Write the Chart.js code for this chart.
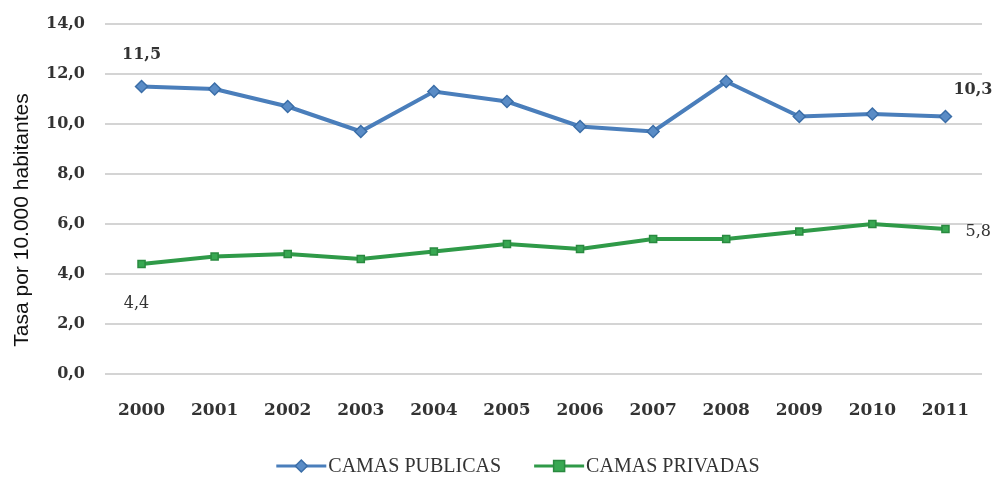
<!DOCTYPE html>
<html lang="es">
<head>
<meta charset="UTF-8">
<title>Camas por 10.000 habitantes</title>
<script src="https://cdn.jsdelivr.net/npm/chart.js"></script>
<style>
  html, body { margin: 0; padding: 0; background: #fff; }
  #wrap { width: 998px; height: 480px; }
</style>
</head>
<body>
<div id="wrap"><canvas id="camas"></canvas></div>
<script>
const years = ['2000', '2001', '2002', '2003', '2004', '2005', '2006', '2007', '2008', '2009', '2010', '2011'];
const publicas = [11.5, 11.4, 10.7, 9.7, 11.3, 10.9, 9.9, 9.7, 11.7, 10.3, 10.4, 10.3];
const privadas = [4.4, 4.7, 4.8, 4.6, 4.9, 5.2, 5.0, 5.4, 5.4, 5.7, 6.0, 5.8];
const seriesNames = ['CAMAS PUBLICAS', 'CAMAS PRIVADAS'];
const yTitle = 'Tasa por 10.000 habitantes';

const BLUE = '#4a7ebb';
const BLUE_FILL = '#5a8cc6';
const GREEN = '#2f9a48';
const GREEN_FILL = '#38a852';

const serif = "'DejaVu Serif', 'Liberation Serif', serif";
const legendSerif = "'Liberation Serif', serif";
const fmt = v => v.toFixed(1).replace('.', ',');

function drawMarker(g, x, y, shape, fill, stroke) {
  g.fillStyle = fill;
  g.strokeStyle = stroke;
  g.lineWidth = 1.5;
  g.beginPath();
  if (shape === 'diamond') {
    g.moveTo(x, y - 6); g.lineTo(x + 6, y); g.lineTo(x, y + 6); g.lineTo(x - 6, y); g.closePath();
  } else {
    g.rect(x - 5.5, y - 5.5, 11, 11);
  }
  g.fill(); g.stroke();
}

// first/last point values, rotated axis title and the bottom legend
const extras = {
  id: 'extras',
  afterDatasetsDraw(chart) {
    const ctx = chart.ctx;
    const p0 = chart.getDatasetMeta(0).data;
    const g0 = chart.getDatasetMeta(1).data;
    const n = years.length - 1;
    ctx.save();
    ctx.fillStyle = '#333';
    ctx.textBaseline = 'middle';

    ctx.font = 'bold 16px ' + serif;
    ctx.textAlign = 'center';
    ctx.fillText(fmt(publicas[0]), p0[0].x, p0[0].y - 32);
    ctx.textAlign = 'left';
    ctx.fillText(fmt(publicas[n]), p0[n].x + 8, p0[n].y - 27);
    ctx.font = '16px ' + serif;
    ctx.fillText(fmt(privadas[n]), g0[n].x + 20, g0[n].y + 3);
    ctx.textAlign = 'center';
    ctx.fillText(fmt(privadas[0]), g0[0].x - 5, g0[0].y + 40);

    // y title
    ctx.save();
    ctx.translate(22, 220);
    ctx.rotate(-Math.PI / 2);
    ctx.font = "21px 'Liberation Sans', Arial, sans-serif";
    ctx.fillStyle = '#111';
    ctx.fillText(yTitle, 0, 0);
    ctx.restore();

    // legend
    ctx.font = '20px ' + legendSerif;
    ctx.textAlign = 'left';
    const styles = [
      { line: BLUE, fill: BLUE_FILL, stroke: '#3b6ea8', shape: 'diamond' },
      { line: GREEN, fill: GREEN_FILL, stroke: '#2a8a40', shape: 'square' }
    ];
    const w = seriesNames.map(s => ctx.measureText(s).width);
    const total = 50 + w[0] + 35 + 50 + w[1];
    let x = chart.width / 2 + 18 - total / 2;
    const y = 466;
    seriesNames.forEach((name, i) => {
      const s = styles[i];
      ctx.strokeStyle = s.line;
      ctx.lineWidth = 3;
      ctx.beginPath(); ctx.moveTo(x, y); ctx.lineTo(x + 50, y); ctx.stroke();
      drawMarker(ctx, x + 25, y, s.shape, s.fill, s.stroke);
      ctx.fillStyle = '#333';
      ctx.fillText(name, x + 52, y + 1);
      x += 50 + w[i] + 35;
    });
    ctx.restore();
  }
};

new Chart(document.getElementById('camas'), {
  type: 'line',
  data: {
    labels: years,
    datasets: [{
      label: seriesNames[0],
      data: publicas,
      borderColor: BLUE,
      backgroundColor: BLUE_FILL,
      borderWidth: 4,
      pointStyle: 'rectRot',
      pointRadius: 6,
      pointBorderWidth: 1.5,
      pointBorderColor: '#3b6ea8',
      tension: 0
    }, {
      label: seriesNames[1],
      data: privadas,
      borderColor: GREEN,
      backgroundColor: GREEN_FILL,
      borderWidth: 4,
      pointStyle: 'rect',
      pointRadius: 5,
      pointBorderWidth: 1.5,
      pointBorderColor: '#2a8a40',
      tension: 0
    }]
  },
  options: {
    responsive: true,
    maintainAspectRatio: false,
    animation: false,
    layout: { padding: { top: 24, right: 16, left: 0, bottom: 48 } },
    plugins: {
      tooltip: { enabled: false },
      legend: { display: false }
    },
    scales: {
      x: {
        offset: true,
        grid: { display: false },
        border: { display: false },
        ticks: {
          color: '#333',
          padding: 18,
          font: { family: serif, size: 17, weight: 'bold' }
        },
        afterFit(scale) { scale.height = 58; }
      },
      y: {
        min: 0,
        max: 14,
        ticks: {
          stepSize: 2,
          color: '#333',
          padding: 20,
          font: { family: serif, size: 16, weight: 'bold' },
          callback: v => fmt(v)
        },
        grid: { color: '#d4d4d4', lineWidth: 2, drawTicks: false },
        border: { display: false },
        afterFit(scale) {
          scale.width = 105;
          scale.paddingTop = 0;
        }
      }
    }
  },
  plugins: [extras]
});
</script>
</body>
</html>
